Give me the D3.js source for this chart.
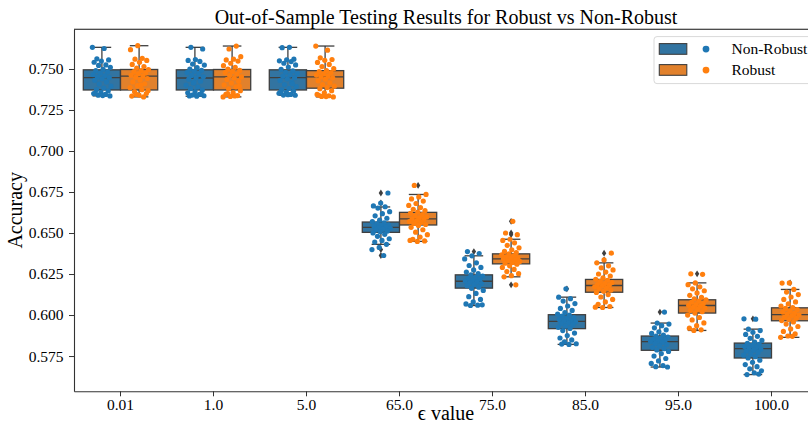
<!DOCTYPE html>
<html>
<head>
<meta charset="utf-8">
<script src="https://cdn.jsdelivr.net/npm/d3@7"></script>
<style>
  body { margin: 0; background: #fff; }
  text { font-family: "Liberation Serif", "Times New Roman", serif; }
</style>
</head>
<body>
<div id="chart"></div>
<script>
// categories (epsilon values) and hue groups
const epsilons = ["0.01", "1.0", "5.0", "65.0", "75.0", "85.0", "95.0", "100.0"];
const groups = ["Non-Robust", "Robust"];

// box statistics per epsilon
const nonRobustBox = {
    lo:  [0.7336, 0.7334, 0.7340, 0.6431, 0.6058, 0.5821, 0.5683, 0.5637],
    q1:  [0.7372, 0.7372, 0.7372, 0.6504, 0.6164, 0.5917, 0.5785, 0.5738],
    med: [0.7447, 0.7445, 0.7447, 0.6535, 0.6206, 0.5961, 0.5838, 0.5795],
    q3:  [0.7495, 0.7495, 0.7495, 0.6567, 0.6245, 0.6002, 0.5872, 0.5829],
    hi:  [0.7632, 0.7632, 0.7632, 0.6659, 0.6361, 0.6109, 0.5951, 0.5914]
};
const robustBox = {
    lo:  [0.7330, 0.7330, 0.7330, 0.6449, 0.6233, 0.6046, 0.5906, 0.5864],
    q1:  [0.7372, 0.7372, 0.7383, 0.6549, 0.6312, 0.6139, 0.6012, 0.5965],
    med: [0.7457, 0.7452, 0.7452, 0.6586, 0.6342, 0.6180, 0.6058, 0.6002],
    q3:  [0.7497, 0.7497, 0.7490, 0.6626, 0.6373, 0.6217, 0.6093, 0.6044],
    hi:  [0.7642, 0.7640, 0.7640, 0.6735, 0.6462, 0.6318, 0.6196, 0.6156]
};
const nonRobustFliers = [[], [], [], [0.6744, 0.6683, 0.6399, 0.6363], [0.6387], [0.6160], [0.6018], [0.5977]];
const robustFliers = [[], [], [], [0.6790], [0.6571, 0.6500, 0.6490, 0.6184], [0.6377, 0.6336], [0.6251], [0.6196]];

// individual test accuracies (strip points)
const nonRobustRuns = [
    [0.7632, 0.7625, 0.7562, 0.7555, 0.7548, 0.7541, 0.7525, 0.7522, 0.7510, 0.7498, 0.7490, 0.7482, 0.7475, 0.7466, 0.7458, 0.7450, 0.7447, 0.7440, 0.7431, 0.7420, 0.7408, 0.7395, 0.7384, 0.7375, 0.7366, 0.7358, 0.7350, 0.7345, 0.7340, 0.7336, 0.7338, 0.7352],
    [0.7632, 0.7622, 0.7558, 0.7552, 0.7546, 0.7530, 0.7524, 0.7508, 0.7500, 0.7492, 0.7486, 0.7478, 0.7470, 0.7461, 0.7452, 0.7445, 0.7438, 0.7426, 0.7415, 0.7402, 0.7390, 0.7380, 0.7371, 0.7362, 0.7355, 0.7346, 0.7341, 0.7337, 0.7334, 0.7336, 0.7349, 0.7417],
    [0.7632, 0.7630, 0.7560, 0.7556, 0.7550, 0.7545, 0.7535, 0.7525, 0.7512, 0.7498, 0.7488, 0.7480, 0.7472, 0.7463, 0.7455, 0.7447, 0.7440, 0.7430, 0.7418, 0.7405, 0.7392, 0.7381, 0.7373, 0.7365, 0.7357, 0.7352, 0.7345, 0.7341, 0.7340, 0.7343, 0.7362, 0.7410],
    [0.6744, 0.6683, 0.6665, 0.6660, 0.6652, 0.6630, 0.6618, 0.6605, 0.6590, 0.6578, 0.6570, 0.6562, 0.6556, 0.6550, 0.6545, 0.6540, 0.6536, 0.6533, 0.6529, 0.6524, 0.6518, 0.6512, 0.6507, 0.6500, 0.6492, 0.6480, 0.6465, 0.6455, 0.6445, 0.6431, 0.6412, 0.6399, 0.6363],
    [0.6387, 0.6375, 0.6361, 0.6342, 0.6318, 0.6302, 0.6290, 0.6275, 0.6262, 0.6252, 0.6245, 0.6238, 0.6230, 0.6224, 0.6218, 0.6212, 0.6207, 0.6203, 0.6198, 0.6192, 0.6185, 0.6178, 0.6170, 0.6163, 0.6150, 0.6132, 0.6112, 0.6095, 0.6080, 0.6068, 0.6060, 0.6058, 0.6062],
    [0.6160, 0.6109, 0.6100, 0.6085, 0.6070, 0.6055, 0.6040, 0.6028, 0.6015, 0.6005, 0.6000, 0.5993, 0.5985, 0.5978, 0.5972, 0.5966, 0.5962, 0.5958, 0.5953, 0.5947, 0.5940, 0.5932, 0.5925, 0.5918, 0.5905, 0.5890, 0.5875, 0.5860, 0.5848, 0.5836, 0.5825, 0.5821, 0.5823],
    [0.6018, 0.5951, 0.5945, 0.5935, 0.5922, 0.5910, 0.5898, 0.5888, 0.5878, 0.5872, 0.5866, 0.5860, 0.5853, 0.5847, 0.5842, 0.5838, 0.5833, 0.5827, 0.5820, 0.5812, 0.5803, 0.5795, 0.5787, 0.5778, 0.5765, 0.5750, 0.5735, 0.5720, 0.5705, 0.5692, 0.5685, 0.5683],
    [0.5977, 0.5975, 0.5914, 0.5905, 0.5895, 0.5882, 0.5870, 0.5858, 0.5845, 0.5835, 0.5828, 0.5822, 0.5815, 0.5808, 0.5802, 0.5797, 0.5792, 0.5786, 0.5780, 0.5772, 0.5763, 0.5755, 0.5746, 0.5738, 0.5725, 0.5712, 0.5698, 0.5685, 0.5672, 0.5660, 0.5648, 0.5637, 0.5640]
];
const robustRuns = [
    [0.7642, 0.7618, 0.7565, 0.7560, 0.7552, 0.7541, 0.7528, 0.7515, 0.7506, 0.7497, 0.7490, 0.7484, 0.7476, 0.7470, 0.7462, 0.7457, 0.7450, 0.7442, 0.7433, 0.7421, 0.7410, 0.7398, 0.7386, 0.7374, 0.7362, 0.7350, 0.7341, 0.7335, 0.7330, 0.7345, 0.7368, 0.7402],
    [0.7640, 0.7622, 0.7575, 0.7560, 0.7555, 0.7548, 0.7535, 0.7520, 0.7510, 0.7499, 0.7491, 0.7485, 0.7478, 0.7468, 0.7460, 0.7452, 0.7445, 0.7436, 0.7425, 0.7414, 0.7403, 0.7391, 0.7379, 0.7368, 0.7356, 0.7345, 0.7338, 0.7333, 0.7330, 0.7336, 0.7350, 0.7395],
    [0.7640, 0.7615, 0.7568, 0.7558, 0.7553, 0.7540, 0.7528, 0.7515, 0.7502, 0.7490, 0.7484, 0.7478, 0.7470, 0.7463, 0.7457, 0.7452, 0.7446, 0.7438, 0.7428, 0.7416, 0.7405, 0.7395, 0.7387, 0.7380, 0.7368, 0.7355, 0.7345, 0.7337, 0.7333, 0.7330, 0.7332, 0.7340],
    [0.6790, 0.6735, 0.6720, 0.6708, 0.6695, 0.6680, 0.6668, 0.6655, 0.6645, 0.6636, 0.6628, 0.6620, 0.6612, 0.6605, 0.6598, 0.6592, 0.6587, 0.6582, 0.6576, 0.6570, 0.6564, 0.6558, 0.6552, 0.6546, 0.6535, 0.6520, 0.6505, 0.6490, 0.6475, 0.6462, 0.6452, 0.6449, 0.6455],
    [0.6571, 0.6500, 0.6490, 0.6462, 0.6455, 0.6440, 0.6425, 0.6410, 0.6398, 0.6388, 0.6380, 0.6373, 0.6367, 0.6361, 0.6355, 0.6350, 0.6345, 0.6341, 0.6337, 0.6332, 0.6327, 0.6321, 0.6316, 0.6310, 0.6300, 0.6290, 0.6278, 0.6265, 0.6252, 0.6240, 0.6233, 0.6184],
    [0.6377, 0.6336, 0.6318, 0.6300, 0.6288, 0.6275, 0.6262, 0.6250, 0.6238, 0.6226, 0.6218, 0.6212, 0.6205, 0.6198, 0.6192, 0.6186, 0.6181, 0.6177, 0.6172, 0.6166, 0.6160, 0.6152, 0.6145, 0.6138, 0.6125, 0.6110, 0.6095, 0.6080, 0.6065, 0.6052, 0.6046, 0.6048],
    [0.6251, 0.6248, 0.6196, 0.6185, 0.6172, 0.6160, 0.6148, 0.6135, 0.6120, 0.6108, 0.6098, 0.6092, 0.6085, 0.6078, 0.6070, 0.6064, 0.6059, 0.6054, 0.6048, 0.6042, 0.6035, 0.6028, 0.6020, 0.6012, 0.6000, 0.5985, 0.5970, 0.5952, 0.5935, 0.5920, 0.5910, 0.5906],
    [0.6196, 0.6195, 0.6156, 0.6140, 0.6125, 0.6110, 0.6095, 0.6080, 0.6068, 0.6055, 0.6046, 0.6040, 0.6033, 0.6026, 0.6018, 0.6010, 0.6004, 0.6000, 0.5995, 0.5988, 0.5980, 0.5972, 0.5966, 0.5958, 0.5945, 0.5930, 0.5915, 0.5900, 0.5885, 0.5872, 0.5864, 0.5870]
];

const yTicks = [0.575, 0.600, 0.625, 0.650, 0.675, 0.700, 0.725, 0.750];

const boxColors = ["#3274a1", "#e1812c"];
const dotColors = ["#1f77b4", "#ff7f0e"];
const lineColor = "#3f3f3f";

const svgWidth = 808, svgHeight = 432;
const margin = { top: 29.3, right: -10, bottom: 40.7, left: 74 };
const width = svgWidth - margin.left - margin.right;
const height = svgHeight - margin.top - margin.bottom;

const svg = d3.select("#chart")
    .append("svg")
    .attr("width", svgWidth)
    .attr("height", svgHeight)
    .style("display", "block");

const g = svg.append("g")
    .attr("transform", `translate(${margin.left},${margin.top})`);

const x = d3.scaleBand()
    .domain(epsilons)
    .range([0, width])
    .padding(0);

const hue = d3.scaleBand()
    .domain(groups)
    .range([x.bandwidth() * 0.1, x.bandwidth() * 0.9]);

const y = d3.scaleLinear()
    .domain([0.5535, 0.7742])
    .range([height, 0]);

// axes
const xAxis = g.append("g")
    .attr("transform", `translate(0,${height})`)
    .call(d3.axisBottom(x).tickSize(5).tickPadding(2.5).tickSizeOuter(0));

const yAxis = g.append("g")
    .call(d3.axisLeft(y).tickValues(yTicks).tickFormat(d3.format(".3f")).tickSize(5).tickPadding(5.5).tickSizeOuter(0));

[xAxis, yAxis].forEach(ax => {
    ax.selectAll("text").style("font-size", "15.5px").attr("fill", "#000");
    ax.selectAll(".tick line").attr("stroke", "#333").attr("stroke-width", 1);
    ax.select(".domain").attr("stroke", "#333").attr("stroke-width", 1.1);
});

// top spine
g.append("line")
    .attr("x1", 0).attr("x2", width)
    .attr("y1", 0).attr("y2", 0)
    .attr("stroke", "#111")
    .attr("stroke-width", 1.1);

const sets = [
    { box: nonRobustBox, fliers: nonRobustFliers, runs: nonRobustRuns },
    { box: robustBox, fliers: robustFliers, runs: robustRuns }
];

const bw = hue.bandwidth();

// boxes
sets.forEach((s, gi) => {
    const grp = g.append("g").attr("class", "box-" + gi);
    epsilons.forEach((eps, i) => {
        const x0 = x(eps) + hue(groups[gi]);
        const cx = x0 + bw / 2;
        const b = s.box;
        // whiskers
        grp.append("line")
            .attr("x1", cx).attr("x2", cx)
            .attr("y1", y(b.q3[i])).attr("y2", y(b.hi[i]))
            .attr("stroke", lineColor).attr("stroke-width", 1.3);
        grp.append("line")
            .attr("x1", cx).attr("x2", cx)
            .attr("y1", y(b.q1[i])).attr("y2", y(b.lo[i]))
            .attr("stroke", lineColor).attr("stroke-width", 1.3);
        // caps
        [b.hi[i], b.lo[i]].forEach(v => {
            grp.append("line")
                .attr("x1", cx - bw / 4).attr("x2", cx + bw / 4)
                .attr("y1", y(v)).attr("y2", y(v))
                .attr("stroke", lineColor).attr("stroke-width", 1.3);
        });
        // box
        grp.append("rect")
            .attr("x", x0)
            .attr("y", y(b.q3[i]))
            .attr("width", bw)
            .attr("height", y(b.q1[i]) - y(b.q3[i]))
            .attr("fill", boxColors[gi])
            .attr("stroke", lineColor)
            .attr("stroke-width", 1.3);
        // median
        grp.append("line")
            .attr("x1", x0).attr("x2", x0 + bw)
            .attr("y1", y(b.med[i])).attr("y2", y(b.med[i]))
            .attr("stroke", lineColor).attr("stroke-width", 1.3);
        // fliers (thin diamonds)
        grp.selectAll(null)
            .data(s.fliers[i])
            .enter().append("path")
            .attr("d", "M0,-3.4L2.2,0L0,3.4L-2.2,0Z")
            .attr("transform", d => `translate(${cx},${y(d)})`)
            .attr("fill", lineColor);
    });
});

// strip points with a fixed, index based jitter
sets.forEach((s, gi) => {
    const grp = g.append("g").attr("class", "strip-" + gi);
    epsilons.forEach((eps, i) => {
        const cx = x(eps) + hue(groups[gi]) + bw / 2;
        grp.selectAll(null)
            .data(s.runs[i])
            .enter().append("circle")
            .attr("cx", (d, k) => cx + (((k * 0.618034 + i * 0.29 + gi * 0.43) % 1) * 2 - 1) * 9.5)
            .attr("cy", d => y(d))
            .attr("r", 2.6)
            .attr("fill", dotColors[gi]);
    });
});

// title and axis labels
svg.append("text")
    .attr("x", margin.left + width / 2)
    .attr("y", 24.3)
    .attr("text-anchor", "middle")
    .style("font-size", "20px")
    .text("Out-of-Sample Testing Results for Robust vs Non-Robust");

svg.append("text")
    .attr("transform", `translate(22,${margin.top + height / 2}) rotate(-90)`)
    .attr("text-anchor", "middle")
    .style("font-size", "20px")
    .text("Accuracy");

svg.append("text")
    .attr("x", margin.left + width / 2)
    .attr("y", 420)
    .attr("text-anchor", "middle")
    .style("font-size", "20px")
    .text("\u03f5 value");

// legend
const legend = g.append("g")
    .attr("transform", `translate(${width - 164},7.3)`);

legend.append("rect")
    .attr("width", 157)
    .attr("height", 47)
    .attr("rx", 3)
    .attr("fill", "#fff")
    .attr("fill-opacity", 0.8)
    .attr("stroke", "#d9d9d9")
    .attr("stroke-width", 1);

groups.forEach((name, gi) => {
    const row = legend.append("g")
        .attr("transform", `translate(0,${12.5 + gi * 21})`);
    row.append("rect")
        .attr("x", 5.3).attr("y", -5.5)
        .attr("width", 27.5).attr("height", 10.7)
        .attr("fill", boxColors[gi])
        .attr("stroke", lineColor)
        .attr("stroke-width", 1.1);
    row.append("circle")
        .attr("cx", 52).attr("cy", 0)
        .attr("r", 3.4)
        .attr("fill", dotColors[gi]);
    row.append("text")
        .attr("x", 77.5).attr("y", 5.3)
        .style("font-size", "15.5px")
        .text(name);
});
</script>
</body>
</html>
